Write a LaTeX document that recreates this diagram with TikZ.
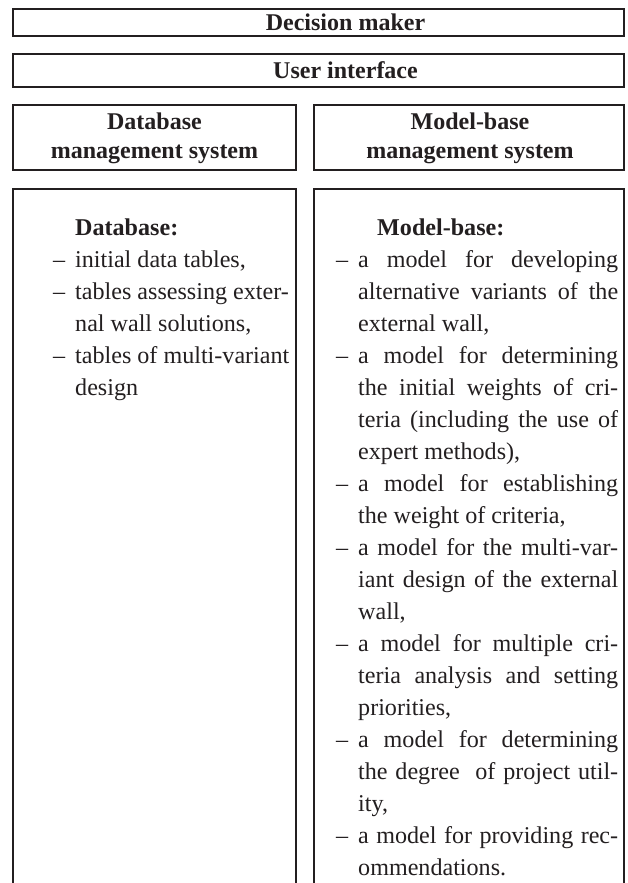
\documentclass[tikz,border=0pt]{standalone}
\usepackage{fontspec}
\setmainfont{Liberation Serif}
\definecolor{ink}{HTML}{231F20}
\newcommand\dashL{\llap{\makebox[22pt][l]{–}}}
\newcommand\dashR{\llap{\makebox[22pt][l]{–}}}
\newcommand\jl[1]{\makebox[\linewidth][s]{#1}}
\newcommand\bodyfont{\fontsize{24.1}{32}\selectfont}
\begin{document}
\begin{tikzpicture}[x=1pt,y=1pt,
  frame/.style={draw=ink, line width=1.6pt},
  boxnode/.style={frame, inner sep=0pt},
  hdrtext/.style={inner sep=0pt, text=ink, align=center,
    font=\bfseries\fontsize{24}{29}\selectfont},
  txt/.style={inner sep=0pt, text=ink, anchor=base west},
]
\useasboundingbox (0,0) rectangle (627,-883);
\fill[white] (0,0) rectangle (627,-883);

\node[boxnode, minimum width=611pt, minimum height=27pt] (dm) at (318.5,-22.5) {};
\node[hdrtext] (dmt) at (345.5,-22.5) {Decision maker};
\node[boxnode, minimum width=611pt, minimum height=33pt] (ui) at (318.5,-70.5) {};
\node[hdrtext] (uit) at (345.5,-70.5) {User interface};
\node[boxnode, minimum width=283pt, minimum height=65pt] (dbms) at (154.5,-137.5) {};
\node[hdrtext] (dbmst) at (154.5,-138.5) {Database\\management system};
\node[boxnode, minimum width=310pt, minimum height=65pt] (mbms) at (469,-137.5) {};
\node[hdrtext] (mbmst) at (470,-138.5) {Model-base\\management system};

\node[inner sep=0pt, minimum width=283pt, minimum height=701pt] (db) at (154.5,-539.5) {};
\node[inner sep=0pt, minimum width=310pt, minimum height=701pt] (mb) at (469,-539.5) {};
\draw[frame] (db.south west) -- (db.north west) -- (db.north east) -- (db.south east);
\draw[frame] (mb.south west) -- (mb.north west) -- (mb.north east) -- (mb.south east);

\node[txt] (dbtxt) at (75,-235) {\parbox[t]{240pt}{\bodyfont
\textbf{Database:}\\
\dashL initial data tables,\\
\dashL tables assessing exter-\\
nal wall solutions,\\
\dashL tables of multi-variant\\
design}};

\node[txt] (mbtxt) at (358,-235) {\parbox[t]{260pt}{\bodyfont
\hspace*{19pt}\textbf{Model-base:}\\
\dashR\jl{a model for developing}\\
\jl{alternative variants of the}\\
external wall,\\
\dashR\jl{a model for determining}\\
\jl{the initial weights of cri-}\\
\jl{teria (including the use of}\\
expert methods),\\
\dashR\jl{a model for establishing}\\
the weight of criteria,\\
\dashR\jl{a model for the multi-var-}\\
\jl{iant design of the external}\\
wall,\\
\dashR\jl{a model for multiple cri-}\\
\jl{teria analysis and setting}\\
priorities,\\
\dashR\jl{a model for determining}\\
\jl{the degree\ \ of project util-}\\
ity,\\
\dashR\jl{a model for providing rec-}\\
ommendations.}};
\end{tikzpicture}
\end{document}
